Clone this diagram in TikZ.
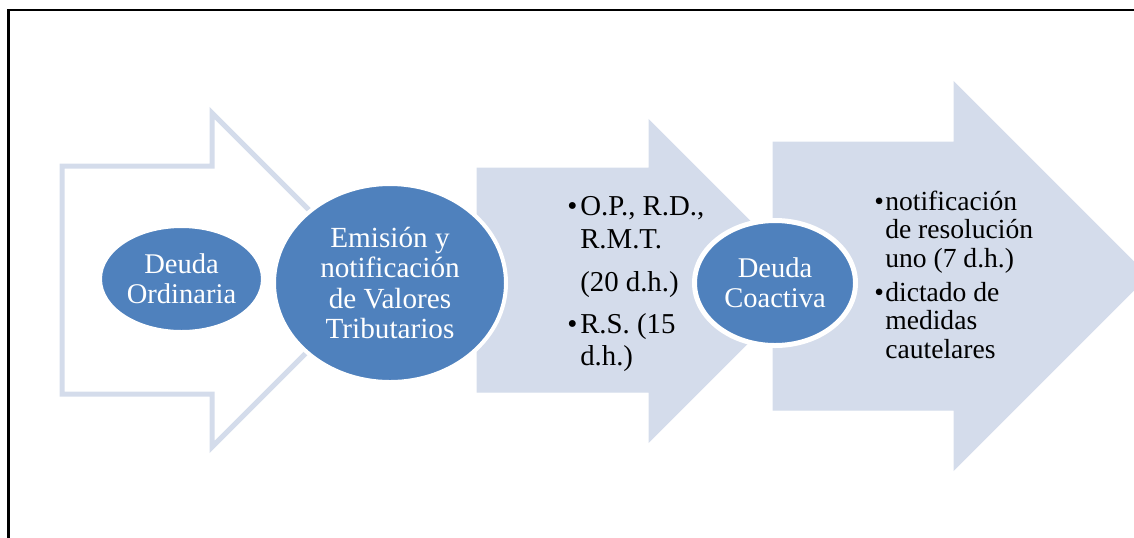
\documentclass[tikz,border=0pt]{standalone}
\usepackage{fontspec}
\setmainfont{Liberation Serif}
\usetikzlibrary{shapes.geometric}
\definecolor{bluefill}{RGB}{79,129,189}
\definecolor{arrowfill}{RGB}{212,220,235}
\begin{document}
\begin{tikzpicture}[x=0.75pt,y=-0.75pt,
  bigarrow/.style={fill=arrowfill, draw=arrowfill, line width=0.75pt, line join=miter},
  outlinearrow/.style={draw=arrowfill, line width=3.75pt, line join=miter},
  blob/.style={ellipse, fill=bluefill, draw=white, inner sep=0pt, text=white, align=center,
    font=\fontsize{21.4}{22.7}\selectfont},
  txtline/.style={anchor=base west, inner sep=0pt, font=\fontsize{21.6}{22.7}\selectfont},
  txtlinesmall/.style={anchor=base west, inner sep=0pt, font=\fontsize{20.7}{21.4}\selectfont},
  frameline/.style={draw=black, line width=1.9pt}
]
\useasboundingbox (0,0) rectangle (1134,537);
\clip (0,0) rectangle (1134,537);
% frame
\draw[frameline] (1140,10) -- (8.7,10) -- (8.7,545);
% arrows
\draw[outlinearrow] (62,166) -- (212,166) -- (212,113) -- (379,280) -- (212,447) -- (212,394) -- (62,394) -- cycle;
\draw[bigarrow] (477,168) -- (649,168) -- (649,120) -- (810,281) -- (649,442) -- (649,392) -- (477,392) -- cycle;
\draw[bigarrow] (773,142) -- (954,142) -- (954,82) -- (1148,276) -- (954,470) -- (954,410) -- (773,410) -- cycle;
% ellipses
\node[blob, line width=3pt, minimum width=122.25pt, minimum height=79.5pt] (ord) at (181.5,279) {Deuda\\Ordinaria};
\node[blob, line width=3pt, minimum width=174pt, minimum height=148.5pt,
  font=\fontsize{21.9}{22.7}\selectfont] (emi) at (390,283) {Emisión y\\notificación\\de Valores\\Tributarios};
\node[blob, line width=3.75pt, minimum width=120.75pt, minimum height=93.75pt] (coa) at (775,283) {Deuda\\Coactiva};
% texts in second arrow
\node[txtline] (b1) at (567,215) {•};
\node[txtline] (t1) at (580,215) {O.P., R.D.,};
\node[txtline] (t2) at (580,248) {R.M.T.};
\node[txtline] (t3) at (580,291) {(20 d.h.)};
\node[txtline] (b2) at (567,333) {•};
\node[txtline] (t4) at (580,333) {R.S. (15};
\node[txtline] (t5) at (580,365) {d.h.)};
% texts in third arrow
\node[txtlinesmall] (b3) at (874,210) {•};
\node[txtlinesmall] (u1) at (885,210) {notificación};
\node[txtlinesmall] (u2) at (885,238) {de resolución};
\node[txtlinesmall] (u3) at (885,267) {uno (7 d.h.)};
\node[txtlinesmall] (b4) at (874,301) {•};
\node[txtlinesmall] (u4) at (885,301) {dictado de};
\node[txtlinesmall] (u5) at (885,329) {medidas};
\node[txtlinesmall] (u6) at (885,358) {cautelares};
\end{tikzpicture}
\end{document}
